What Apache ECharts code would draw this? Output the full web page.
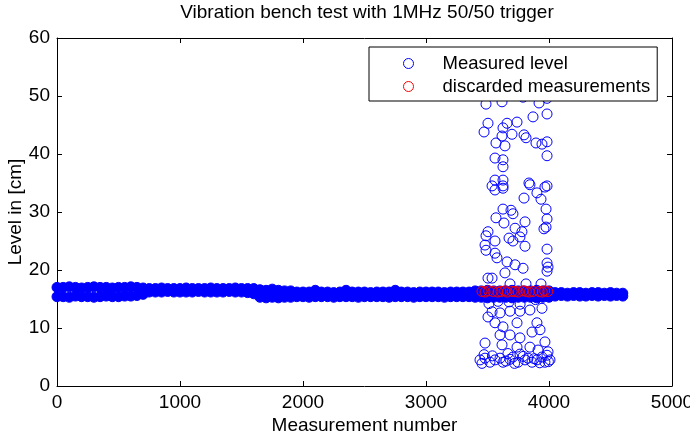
<!DOCTYPE html>
<html>
<head>
<meta charset="utf-8">
<script src="https://cdn.jsdelivr.net/npm/echarts@6/dist/echarts.min.js"></script>
<style>
  html, body { margin: 0; padding: 0; background: #fff; }
  #chart { width: 690px; height: 437px; }
</style>
</head>
<body>
<div id="chart"></div>
<script>
// steady readings: upper and lower level seen around every bandStep-th measurement
var bandStep = 50;
var bandUpper = [
  17.0,17.0,17.1,17.0,16.9,17.0,17.1,17.0,17.0,16.9,17.0,17.0,17.1,17.0,16.9,
  16.8,16.8,16.9,16.8,16.8,16.8,16.9,16.8,16.8,16.8,16.9,16.8,16.8,16.8,16.9,16.8,16.8,16.8,
  16.6,16.5,16.7,16.5,16.4,16.4,
  16.2,16.2,16.2,16.5,16.2,16.2,16.1,16.2,16.5,16.2,16.2,16.2,16.1,16.2,16.2,
  16.2,16.5,16.2,16.2,16.1,16.2,16.2,16.2,16.2,16.1,16.2,16.2,16.2,16.2,
  16.4,16.4,16.5,16.4,16.4,16.4,16.5,16.4,16.4,16.4,16.5,16.4,16.4,
  16.1,16.1,16.0,16.1,16.1,16.0,16.1,16.1,16.0,16.1,16.0,16.0
];
var bandLower = [
  15.4,15.4,15.3,15.5,15.4,15.4,15.3,15.4,15.5,15.4,15.4,15.5,15.5,15.6,15.8,
  16.2,16.2,16.2,16.3,16.2,16.2,16.2,16.2,16.3,16.2,16.2,16.2,16.2,16.3,16.2,16.2,16.1,15.9,
  15.3,15.2,15.3,15.2,15.3,15.3,
  15.4,15.4,15.3,15.4,15.4,15.4,15.3,15.4,15.4,15.4,15.3,15.4,15.4,15.4,15.4,
  15.3,15.4,15.4,15.4,15.3,15.4,15.4,15.4,15.4,15.3,15.4,15.4,15.4,15.4,
  15.3,15.3,15.2,15.3,15.3,15.3,15.2,15.3,15.3,15.3,15.2,15.3,15.3,
  15.5,15.6,15.5,15.6,15.5,15.5,15.6,15.5,15.6,15.5,15.6,15.5
];

// readings during the vibration burst [measurement, level]
var burstPoints = [
  [3488,48.6],[3618,49.0],[3789,49.8],[3919,48.8],[3984,49.6],
  [3504,45.3],[3472,43.8],[3659,45.3],[3626,44.5],[3740,45.5],[3870,46.4],[3984,46.9],
  [3699,43.4],[3618,43.1],[3569,41.9],[3642,41.4],[3797,43.3],[3813,42.8],[3894,41.9],
  [3943,41.7],[3984,42.1],[3984,39.7],[3561,39.3],[3626,39.0],[3626,37.8],[3561,35.5],
  [3626,35.5],[3537,34.5],[3626,34.5],[3837,35.0],[3984,34.5],
  [3561,33.8],[3626,34.1],[3845,34.7],[3967,34.3],[3797,32.4],[3902,33.3],[3935,32.2],
  [3976,30.5],[3626,30.5],[3691,30.3],[3707,29.7],[3569,29.0],[3634,28.1],[3805,28.3],
  [3984,28.8],[3976,27.4],[3959,27.1],[3724,27.2],[3780,26.6],[3504,26.6],[3488,25.9],
  [3561,25.0],[3675,25.5],[3707,25.0],[3764,25.7],[3805,24.1],[3480,24.3],[3488,23.4],
  [3561,22.9],[3577,22.1],[3984,23.6],[3659,21.4],[3724,20.9],[3789,20.3],[3642,19.5],
  [3984,21.2],[3992,20.5],[3984,19.8],[3504,18.6],[3537,18.6],[3683,17.6],[3813,17.6],
  [3935,17.6],
  [3512,14.2],[3585,14.6],[3675,14.5],[3765,14.1],[3890,14.9],
  [3537,12.8],[3504,11.9],[3602,12.6],[3683,12.9],[3764,12.9],[3845,13.1],[3943,13.4],
  [3561,10.9],[3626,10.2],[3740,10.9],[3902,10.9],[3927,9.7],[3602,8.8],[3683,8.8],
  [3764,8.3],[3862,9.3],[3967,7.6],[3480,7.4],[3618,7.1],[3740,6.7],[3845,6.7],
  [3911,6.2],[3992,5.9],
  [3439,4.5],[3480,4.8],[3520,4.1],[3561,4.5],[3602,4.8],[3626,4.1],[3683,4.6],
  [3707,5.0],[3748,4.1],[3805,4.5],[3829,4.8],[3862,4.1],[3902,4.5],[3943,5.0],
  [3967,4.1],[4008,4.5],[3472,5.4],[3666,5.6],[3764,5.5],[3984,5.3],
  [3455,3.9],[3540,5.2],[3650,4.3],[3720,3.9],[3790,5.1],[3880,4.7],[3925,4.0],[3995,4.2]
];

var discardedPoints = [
  [3455,16.3],[3480,16.2],[3510,16.4],[3545,16.3],[3585,16.2],[3610,16.3],[3640,16.4],
  [3660,16.2],[3700,16.3],[3725,16.3],[3750,16.2],[3790,16.4],[3815,16.3],[3840,16.2],
  [3870,16.3],[3920,16.3],[3945,16.2],[3965,16.4],[3990,16.3]
];

var xTicks = { min: 0, max: 5000, interval: 1000 };
var yTicks = { min: 0, max: 60, interval: 10 };

var bandPoints = bandUpper.map(function (v, i) { return [i * bandStep, v]; })
  .concat(bandLower.map(function (v, i) { return [i * bandStep, v]; }));

var font = "'Liberation Sans', Arial, Helvetica, sans-serif";
var blue = '#0000ff';
var red = '#ff0000';

var chart = echarts.init(document.getElementById('chart'));

function axisBase(extra) {
  var a = {
    type: 'value',
    axisLine: { show: true, onZero: false, lineStyle: { color: '#000', width: 1 } },
    axisTick: { show: true, inside: true, length: 5, lineStyle: { color: '#000' } },
    axisLabel: {
      show: true, color: '#000', fontSize: 19, fontFamily: font, margin: 7,
      formatter: function (v) { return String(v); }
    },
    splitLine: { show: false }
  };
  return Object.assign(a, extra);
}

var option = {
  animation: false,
  backgroundColor: '#fff',
  title: {
    text: 'Vibration bench test with 1MHz 50/50 trigger',
    left: 367,
    top: 3,
    textAlign: 'center',
    padding: 0,
    textStyle: { color: '#000', fontSize: 19, fontWeight: 'normal', fontFamily: font }
  },
  legend: {
    orient: 'vertical',
    left: 369,
    top: 47,
    padding: [7, 7, 5, 34],
    itemGap: 4,
    itemWidth: 58,
    itemHeight: 10,
    backgroundColor: '#fff',
    borderColor: '#000',
    borderWidth: 1,
    borderRadius: 0,
    textStyle: { color: '#000', fontSize: 18.5, fontFamily: font, lineHeight: 18 },
    data: [
      { name: 'Measured level', icon: 'circle',
        itemStyle: { color: 'transparent', borderColor: blue, borderWidth: 1, opacity: 1 } },
      { name: 'discarded measurements', icon: 'circle',
        itemStyle: { color: 'transparent', borderColor: red, borderWidth: 1, opacity: 1 } }
    ]
  },
  grid: {
    left: 57, right: 18, top: 38, bottom: 51,
    containLabel: false,
    outerBoundsMode: 'none'
  },
  xAxis: [
    axisBase({
      min: xTicks.min, max: xTicks.max, interval: xTicks.interval,
      position: 'bottom',
      name: 'Measurement number',
      nameLocation: 'middle',
      nameGap: 30,
      nameMoveOverlap: false,
      nameTextStyle: { color: '#000', fontSize: 19, fontFamily: font }
    }),
    axisBase({
      min: xTicks.min, max: xTicks.max, interval: xTicks.interval,
      position: 'top',
      axisLabel: { show: false }
    })
  ],
  yAxis: [
    axisBase({
      min: yTicks.min, max: yTicks.max, interval: yTicks.interval,
      position: 'left',
      name: 'Level in [cm]',
      nameLocation: 'middle',
      nameGap: 32,
      nameMoveOverlap: false,
      nameTextStyle: { color: '#000', fontSize: 19, fontFamily: font }
    }),
    axisBase({
      min: yTicks.min, max: yTicks.max, interval: yTicks.interval,
      position: 'right',
      axisLabel: { show: false }
    })
  ],
  series: [
    {
      name: 'Measured level',
      type: 'scatter',
      symbol: 'circle',
      symbolSize: 10,
      data: bandPoints,
      itemStyle: { color: blue, borderColor: blue, borderWidth: 1, opacity: 1 },
      emphasis: { disabled: true }
    },
    {
      name: 'Measured level',
      type: 'scatter',
      symbol: 'circle',
      symbolSize: 10,
      data: burstPoints,
      itemStyle: { color: 'transparent', borderColor: blue, borderWidth: 1, opacity: 1 },
      emphasis: { disabled: true }
    },
    {
      name: 'discarded measurements',
      type: 'scatter',
      symbol: 'circle',
      symbolSize: 10,
      data: discardedPoints,
      itemStyle: { color: 'transparent', borderColor: red, borderWidth: 1, opacity: 1 },
      emphasis: { disabled: true }
    }
  ]
};

chart.setOption(option);
window.addEventListener('resize', function () {
  chart.resize();
});
</script>
</body>
</html>
